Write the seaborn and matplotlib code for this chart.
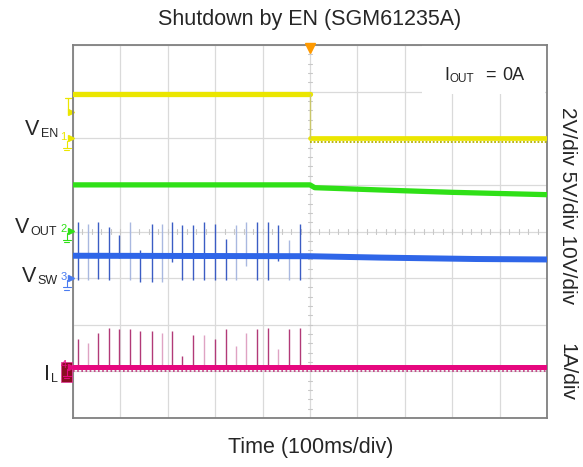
import numpy as np
import pandas as pd
import matplotlib
matplotlib.use("Agg")
import matplotlib.pyplot as plt
from matplotlib.patches import Rectangle
import seaborn as sns

# ---------------- data (scope screen divisions: x 0..10, y 0..8) ----------------
en_time_hi = [0.0, 5.0]
en_level_hi = [6.95, 6.95]
en_time_lo = [5.0, 10.0]
en_level_lo = [6.00, 6.00]

vout_time = [0.0, 5.0, 5.1, 6.5, 8.0, 10.0]
vout_level = [5.00, 5.00, 4.94, 4.89, 4.84, 4.79]

vsw_time = [0.0, 5.0, 6.5, 8.5, 10.0]
vsw_level = [3.48, 3.47, 3.44, 3.41, 3.40]

il_time = [0.0, 10.0]
il_level = [1.10, 1.10]

spike_time = [0.10, 0.31, 0.53, 0.77, 0.98, 1.20, 1.41, 1.66, 1.87, 2.09, 2.31,
              2.53, 2.76, 2.99, 3.22, 3.43, 3.66, 3.88, 4.11, 4.33, 4.56, 4.78]
sw_top = [4.20, 4.17, 4.20, 4.09, 3.93, 4.20, 3.61, 4.17, 4.17, 4.20, 4.15,
          4.15, 4.20, 4.17, 3.84, 4.15, 4.20, 4.20, 4.20, 4.15, 3.81, 4.17]
sw_bottom = [2.95, 2.95, 2.98, 2.95, 3.43, 2.95, 2.91, 2.91, 2.91, 3.34, 2.95,
             2.95, 2.95, 2.95, 2.95, 2.95, 3.25, 2.97, 2.95, 3.36, 2.95, 2.95]
sw_faint = [0, 1, 0, 0, 0, 1, 0, 0, 1, 0, 0, 0, 0, 0, 0, 1, 1, 0, 0, 0, 1, 0]
il_top = [1.70, 1.61, 1.83, 1.93, 1.90, 1.90, 1.86, 1.86, 1.83, 1.86, 1.34,
          1.79, 1.79, 1.70, 1.90, 1.54, 1.83, 1.90, 1.93, 1.47, 1.90, 1.93]
il_faint = [0, 1, 0, 0, 0, 0, 0, 0, 1, 0, 0, 0, 1, 0, 0, 1, 1, 0, 0, 1, 0, 0]

ground_levels = {"1": 6.00, "2": 4.02, "3": 3.00, "4": 1.10}
trigger_level = 6.57

# ---------------- style ----------------
sns.set_theme(style="white")
plt.rcParams['font.family'] = ['Liberation Sans', 'DejaVu Sans']

W, H = 583, 467
fig = plt.figure(figsize=(W / 100, H / 100), dpi=100)
L, R, T, B = 73, 547, 45, 418
ax = fig.add_axes([L / W, 1 - B / H, (R - L) / W, (B - T) / H])
ax.set_xlim(0, 10)
ax.set_ylim(0, 8)
ax.set_xticks(range(11))
ax.set_yticks(range(9))
ax.set_xticklabels([])
ax.set_yticklabels([])
ax.tick_params(length=0)
ax.grid(True, color='#dadada', lw=0.9)
ax.set_axisbelow(True)
for s in ax.spines.values():
    s.set_color('#808080')
    s.set_linewidth(1.3)

# centre cross minor ticks
for yy in np.arange(0, 8.01, 0.2):
    ax.plot([4.955, 5.045], [yy, yy], color='#c8c8c8', lw=0.8, zorder=1)
for xx in np.arange(0, 10.01, 0.2):
    ax.plot([xx, xx], [3.955, 4.045], color='#c8c8c8', lw=0.8, zorder=1)

# white box behind the IOUT label
ax.add_patch(Rectangle((7.36, 6.94), 2.6, 1.05, facecolor='white', edgecolor='none', zorder=1.5))

YEL, GRN, BLU, MAG = '#ebe600', '#2fe017', '#2f66e8', '#e6087f'

# switching spikes (drawn under the traces)
for t, a, b, f in zip(spike_time, sw_top, sw_bottom, sw_faint):
    ax.vlines(t, b, a, color='#a9b8e0' if f else '#3b5cc4', lw=1.0, zorder=2)
for t, a, f in zip(spike_time, il_top, il_faint):
    ax.vlines(t, il_level[0], a, color='#dfa3c3' if f else '#b23a78', lw=1.0, zorder=2)

# traces via seaborn
sns.lineplot(x=en_time_hi, y=en_level_hi, ax=ax, color=YEL, lw=3.8, sort=False, estimator=None, zorder=3)
sns.lineplot(x=en_time_lo, y=en_level_lo, ax=ax, color=YEL, lw=3.4, sort=False, estimator=None, zorder=3)
ax.plot([en_time_hi[-1], en_time_lo[0]], [en_level_hi[-1], en_level_lo[0]], color='#c9c66a', lw=1.0, zorder=3)
ax.plot(en_time_lo, [en_level_lo[0] - 0.08] * 2, color='#b5b000', lw=1.3, ls=(0, (1, 1)), zorder=2.9)
sns.lineplot(x=vout_time, y=vout_level, ax=ax, color=GRN, lw=3.8, sort=False, estimator=None, zorder=3)
sns.lineplot(x=vsw_time, y=vsw_level, ax=ax, color=BLU, lw=4.3, sort=False, estimator=None, zorder=3)
sns.lineplot(x=il_time, y=il_level, ax=ax, color=MAG, lw=3.6, sort=False, estimator=None, zorder=3)
ax.plot(il_time, [il_level[0] - 0.09] * 2, color='#c0307a', lw=1.2, ls=(0, (1, 1.5)), zorder=2.9)

# trigger marker at top
ax.plot([5], [7.93], marker='v', color='#ff9a00', ms=7, clip_on=False, zorder=5)

# channel ground markers at left edge
mcols = {"1": YEL, "2": GRN, "3": '#4a7cf0', "4": MAG}
for k, lv in ground_levels.items():
    if k == "4":
        ax.add_patch(Rectangle((-0.253, lv - 0.33), 0.232, 0.44, facecolor='#8a0d22',
                               edgecolor='#e0409a', lw=0.6, clip_on=False, zorder=4))
    ax.plot([-0.04], [lv], marker='>', color=mcols[k], ms=5, clip_on=False, zorder=6)
    ax.text(-0.2, lv + 0.03, k, color=mcols[k], fontsize=8, ha='center', va='center',
            clip_on=False, zorder=6)
    ax.plot([-0.13, -0.13], [lv - 0.05, lv - 0.2], color=mcols[k], lw=0.8, clip_on=False, zorder=6)
    ax.plot([-0.21, -0.05], [lv - 0.2, lv - 0.2], color=mcols[k], lw=0.8, clip_on=False, zorder=6)
    ax.plot([-0.18, -0.08], [lv - 0.25, lv - 0.25], color=mcols[k], lw=0.8, clip_on=False, zorder=6)
# trigger level marker
ax.plot([-0.04], [trigger_level], marker='>', color=YEL, ms=5, clip_on=False)
ax.plot([-0.1, -0.1], [trigger_level + 0.05, trigger_level + 0.3], color=YEL, lw=0.9, clip_on=False)
ax.plot([-0.17, -0.03], [trigger_level + 0.3, trigger_level + 0.3], color=YEL, lw=0.9, clip_on=False)


def ftxt(x, y, s, **kw):
    fig.text(x / W, 1 - y / H, s, **kw)


# left channel labels
ftxt(25, 135, "V", fontsize=15.5, va='baseline')
ftxt(40.5, 137, "EN", fontsize=9, va='baseline')
ftxt(15, 233, "V", fontsize=15.5, va='baseline')
ftxt(30.5, 235, "OUT", fontsize=9, va='baseline')
ftxt(22, 281.5, "V", fontsize=15.5, va='baseline')
ftxt(37.5, 283.5, "SW", fontsize=9, va='baseline')
ftxt(44.5, 380, "I", fontsize=15.5, va='baseline')
ftxt(50.5, 382, "L", fontsize=9, va='baseline')

# IOUT annotation
ftxt(444, 80, "I", fontsize=13, va='baseline')
ftxt(450, 82, "OUT", fontsize=8.5, va='baseline')
ftxt(485, 80, "=", fontsize=13, va='baseline')
ftxt(502, 80, "0A", fontsize=13, va='baseline')

# right scale labels
ftxt(567, 206, "2V/div 5V/div 10V/div", fontsize=15, rotation=-90, ha='center', va='center')
ftxt(567, 372, "1A/div", fontsize=15, rotation=-90, ha='center', va='center')

# title and x label
ftxt(310, 25, "Shutdown by EN (SGM61235A)", fontsize=15.5, ha='center', va='baseline')
ftxt(311, 453, "Time (100ms/div)", fontsize=15.5, ha='center', va='baseline')

fig.savefig("out.png", dpi=100, facecolor='white')
